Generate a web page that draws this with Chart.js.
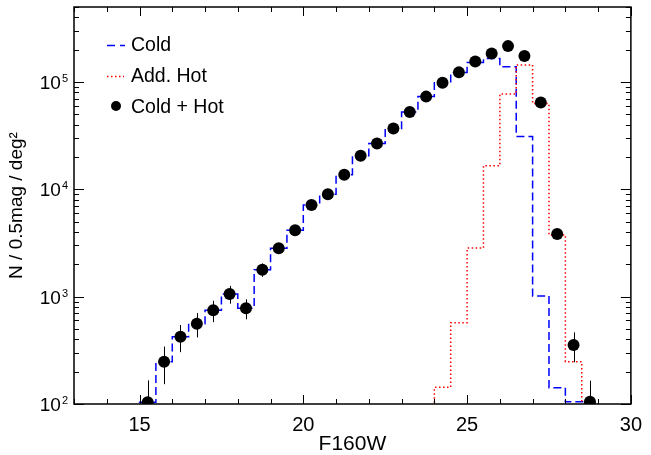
<!DOCTYPE html>
<html>
<head>
<meta charset="utf-8">
<script src="https://cdn.jsdelivr.net/npm/chart.js@4"></script>
<style>
  body { margin: 0; background: #fff; }
  canvas { display: block; }
</style>
</head>
<body>
<canvas id="lumChart" width="651" height="455"></canvas>
<script>
// histogram bins, 0.5 mag wide (left edges, last value closes the last bin)
const coldEdges = [15.0, 15.5, 16.0, 16.5, 17.0, 17.5, 18.0, 18.5, 19.0, 19.5,
    20.0, 20.5, 21.0, 21.5, 22.0, 22.5, 23.0, 23.5, 24.0, 24.5,
    25.0, 25.5, 26.0, 26.5, 27.0, 27.5, 28.0, 28.5, 29.0];
const coldN = [104, 248, 424, 560, 747, 1060, 780, 1786, 2825, 4160,
    7160, 9000, 13700, 20600, 26700, 36800, 52500, 73100, 98400, 122400,
    152000, 166000, 139000, 31000, 1016, 142, 105, 105];

const hotEdges = [24.0, 24.5, 25.0, 25.5, 26.0, 26.5, 27.0, 27.5, 28.0, 28.5];
const hotN = [143, 573, 2840, 16600, 77500, 144000, 63000, 3760, 248];

// cold + hot points at the bin centres
const magCenters = [15.25, 15.75, 16.25, 16.75, 17.25, 17.75, 18.25, 18.75, 19.25, 19.75,
    20.25, 20.75, 21.25, 21.75, 22.25, 22.75, 23.25, 23.75, 24.25, 24.75,
    25.25, 25.75, 26.25, 26.75, 27.25, 27.75, 28.25, 28.75];
const totalN = [104, 248, 424, 560, 747, 1060, 780, 1786, 2825, 4160,
    7160, 9000, 13700, 20600, 26700, 36800, 52500, 73100, 98600, 123000,
    155000, 184000, 216000, 175000, 64300, 3840, 355, 105];
const totalErr = [62, 95, 120, 143, 168, 200, 165, 255, 320, 390,
    510, 570, 700, 860, 990, 1150, 1380, 1620, 1880, 2100,
    2360, 2570, 2790, 2500, 1520, 370, 110, 60];

const xTickLabels = [15, 20, 25, 30];
const yDecades = [2, 3, 4, 5];

const EMPTY = 1; // below the plotted range

function histPoints(edges, counts) {
    let pts = [{x: edges[0], y: EMPTY}];
    for (let i = 0; i < counts.length; i++) {
        pts.push({x: edges[i], y: counts[i]});
    }
    pts.push({x: edges[edges.length - 1], y: EMPTY});
    return pts;
}

const FONT = 'Liberation Sans, Arial, Helvetica, sans-serif';

const errorBars = {
    id: 'errorBars',
    beforeDatasetsDraw(chart) {
        const {ctx, chartArea: a, scales: {x, y}} = chart;
        ctx.save();
        ctx.beginPath();
        ctx.rect(a.left, a.top, a.right - a.left, a.bottom - a.top);
        ctx.clip();
        ctx.strokeStyle = '#000';
        ctx.lineWidth = 1;
        for (let i = 0; i < magCenters.length; i++) {
            const px = Math.round(x.getPixelForValue(magCenters[i])) + 0.5;
            ctx.beginPath();
            ctx.moveTo(px, y.getPixelForValue(totalN[i] + totalErr[i]));
            ctx.lineTo(px, y.getPixelForValue(Math.max(totalN[i] - totalErr[i], 1)));
            ctx.stroke();
        }
        ctx.restore();
    }
};

const frame = {
    id: 'frame',
    afterDraw(chart) {
        const {ctx, chartArea: a, scales: {x, y}} = chart;
        ctx.save();
        ctx.strokeStyle = '#000';
        ctx.lineWidth = 1.5;
        ctx.strokeRect(a.left, a.top, a.right - a.left, a.bottom - a.top);

        ctx.lineWidth = 1;
        // x ticks, inward on bottom and top
        for (let v = Math.ceil(x.min); v <= x.max; v++) {
            const px = Math.round(x.getPixelForValue(v)) + 0.5;
            const len = xTickLabels.includes(v) ? 9 : 5;
            ctx.beginPath();
            ctx.moveTo(px, a.bottom); ctx.lineTo(px, a.bottom - len);
            ctx.moveTo(px, a.top); ctx.lineTo(px, a.top + len);
            ctx.stroke();
        }
        // y ticks, inward on left and right
        for (const d of yDecades) {
            for (let m = 1; m <= 9; m++) {
                const val = m * Math.pow(10, d);
                if (val < y.min || val > y.max) continue;
                const py = Math.round(y.getPixelForValue(val)) + 0.5;
                const len = m === 1 ? 10 : 5;
                ctx.beginPath();
                ctx.moveTo(a.left, py); ctx.lineTo(a.left + len, py);
                ctx.moveTo(a.right, py); ctx.lineTo(a.right - len, py);
                ctx.stroke();
            }
        }

        // y labels 10^n
        ctx.fillStyle = '#000';
        ctx.textBaseline = 'alphabetic';
        ctx.textAlign = 'left';
        for (const d of yDecades) {
            const py = y.getPixelForValue(Math.pow(10, d));
            ctx.font = '11px ' + FONT;
            const ew = ctx.measureText(String(d)).width;
            ctx.font = '19px ' + FONT;
            const bw = ctx.measureText('10').width;
            const right = a.left - 6;
            ctx.fillText('10', right - ew - 1 - bw, py + 7);
            ctx.font = '11px ' + FONT;
            ctx.fillText(String(d), right - ew, py);
        }

        // legend
        const lx = 107, tx = 131;
        ctx.lineWidth = 1.5;
        ctx.strokeStyle = '#0000ff';
        ctx.setLineDash([8, 5]);
        ctx.beginPath(); ctx.moveTo(lx, 45.5); ctx.lineTo(lx + 18, 45.5); ctx.stroke();
        ctx.strokeStyle = '#ff0000';
        ctx.setLineDash([1.5, 2.5]);
        ctx.beginPath(); ctx.moveTo(lx, 76.5); ctx.lineTo(lx + 17, 76.5); ctx.stroke();
        ctx.setLineDash([]);
        ctx.fillStyle = '#000';
        ctx.beginPath(); ctx.arc(116, 106, 5, 0, Math.PI * 2); ctx.fill();
        ctx.font = '19.5px ' + FONT;
        ctx.fillText('Cold', tx, 51);
        ctx.fillText('Add. Hot', tx, 82);
        ctx.fillText('Cold + Hot', tx, 113);
        ctx.restore();
    }
};

const ctx = document.getElementById('lumChart');
const lumChart = new Chart(ctx, {
    type: 'scatter',
    data: {
        datasets: [
            {
                label: 'Cold + Hot',
                data: magCenters.map((m, i) => ({x: m, y: totalN[i]})),
                backgroundColor: '#000',
                borderWidth: 0,
                pointRadius: 6,
                order: 0
            },
            {
                label: 'Add. Hot',
                data: histPoints(hotEdges, hotN),
                showLine: true,
                stepped: 'before',
                borderColor: '#ff0000',
                borderWidth: 1.5,
                borderDash: [1.5, 2.5],
                pointRadius: 0,
                order: 1
            },
            {
                label: 'Cold',
                data: histPoints(coldEdges, coldN),
                showLine: true,
                stepped: 'before',
                borderColor: '#0000ff',
                borderWidth: 1.5,
                borderDash: [8, 4],
                pointRadius: 0,
                order: 2
            }
        ]
    },
    options: {
        responsive: false,
        devicePixelRatio: 1,
        animation: false,
        layout: { padding: { left: 0, top: 7, right: 14, bottom: 0 } },
        plugins: {
            legend: { display: false },
            tooltip: { enabled: false }
        },
        scales: {
            x: {
                type: 'linear',
                min: 13,
                max: 30,
                grid: { display: false, drawTicks: false },
                border: { display: false },
                ticks: {
                    stepSize: 5,
                    includeBounds: false,
                    color: '#000',
                    padding: 9,
                    maxRotation: 0,
                    font: { size: 20, family: FONT }
                },
                title: {
                    display: true,
                    text: 'F160W',
                    color: '#000',
                    padding: { top: 0, bottom: -2 },
                    font: { size: 21, family: FONT }
                },
                afterFit(scale) { scale.height = 51; }
            },
            y: {
                type: 'logarithmic',
                min: 100,
                max: 500000,
                grid: { display: false, drawTicks: false },
                border: { display: false },
                ticks: { display: false },
                title: {
                    display: true,
                    text: 'N / 0.5mag / deg²',
                    color: '#000',
                    padding: { top: 5, bottom: 0 },
                    font: { size: 19, family: FONT }
                },
                afterFit(scale) { scale.width = 74; }
            }
        }
    },
    plugins: [errorBars, frame]
});
</script>
</body>
</html>
